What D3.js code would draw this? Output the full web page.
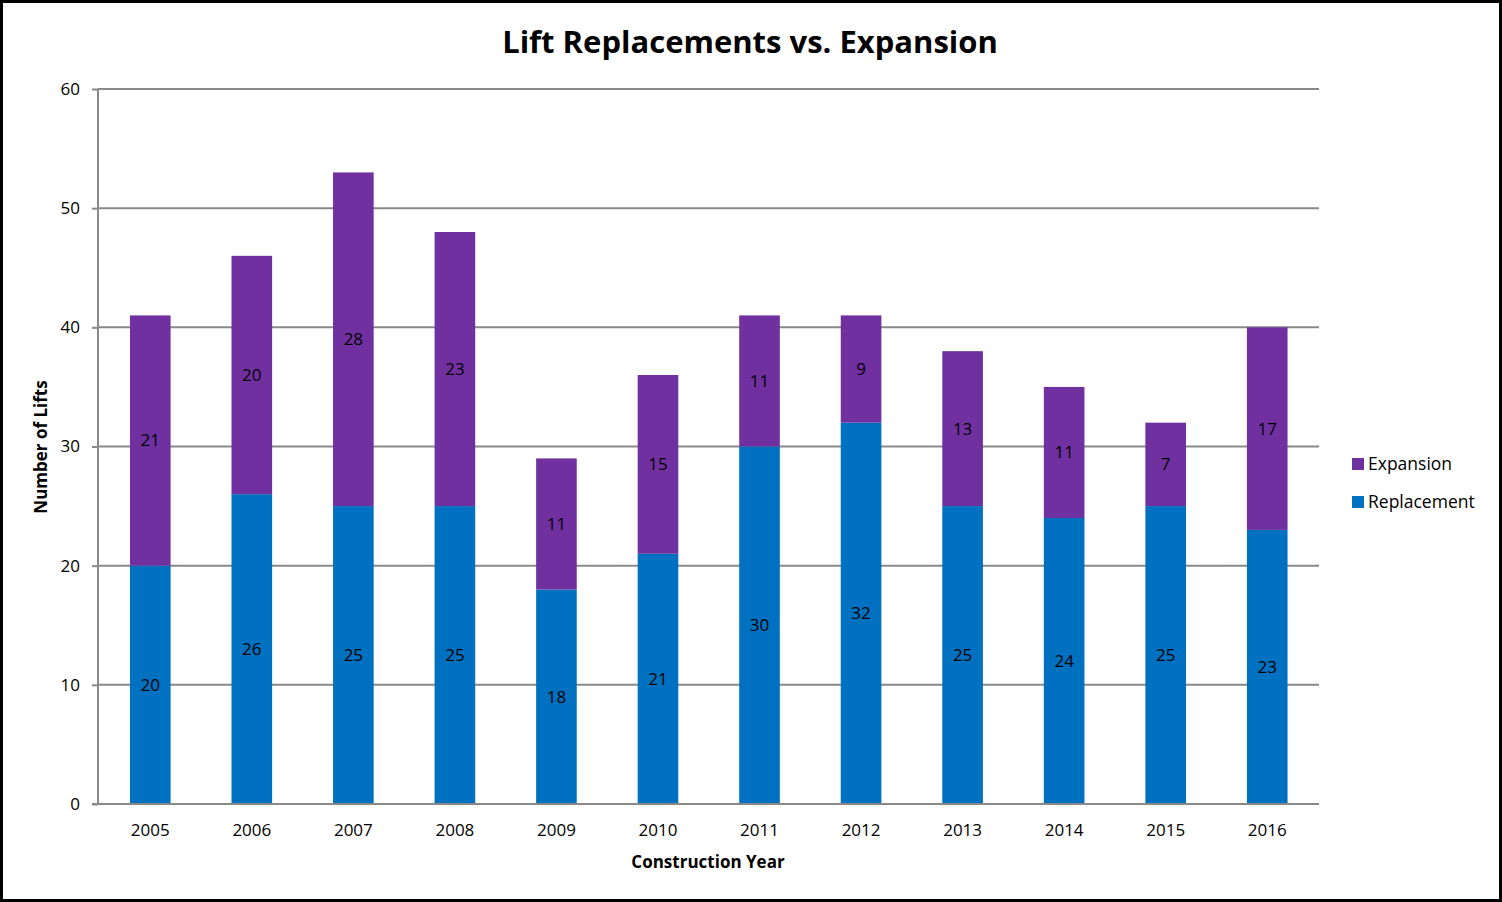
<!DOCTYPE html>
<html lang="en">
<head>
<meta charset="UTF-8">
<style>
  body { margin: 0; background: #fff; }
  svg { display: block; font-family: "Open Sans", "Noto Sans", sans-serif; }
</style>
<script src="https://d3js.org/d3.v7.min.js"></script>
</head>
<body>
<svg id="chart" width="1502" height="902"></svg>
<script>
// chart values
const years = ["2005", "2006", "2007", "2008", "2009", "2010", "2011", "2012", "2013", "2014", "2015", "2016"];
const replacement = [20, 26, 25, 25, 18, 21, 30, 32, 25, 24, 25, 23];
const expansion = [21, 20, 28, 23, 11, 15, 11, 9, 13, 11, 7, 17];
const yTicks = [0, 10, 20, 30, 40, 50, 60];
const seriesNames = ["Replacement", "Expansion"];
const colors = { Replacement: "#0070C0", Expansion: "#7030A0" };

const svg = d3.select("#chart");
const W = 1502, H = 902;
const plotLeft = 98, plotRight = 1319, plotTop = 89, plotBottom = 804;

// outer border
svg.append("rect")
    .attr("x", 1.5).attr("y", 1.5)
    .attr("width", W - 3).attr("height", H - 3)
    .attr("fill", "#fff").attr("stroke", "#000").attr("stroke-width", 3);

const x = d3.scaleBand().domain(years).range([99.5, 1318]).paddingInner(0.6).paddingOuter(0.3);
const y = d3.scaleLinear().domain([0, 60]).range([plotBottom, plotTop]);

// gridlines
svg.append("g")
    .selectAll("line")
    .data(yTicks.filter(d => d > 0))
    .join("line")
    .attr("x1", plotLeft).attr("x2", plotRight)
    .attr("y1", d => y(d)).attr("y2", d => y(d))
    .attr("stroke", "#898989").attr("stroke-width", 2);

// stacked data
const rows = years.map((yr, i) => ({ year: yr, Replacement: replacement[i], Expansion: expansion[i] }));
const stack = d3.stack().keys(seriesNames)(rows);

const layers = svg.append("g")
    .selectAll("g")
    .data(stack)
    .join("g")
    .attr("fill", d => colors[d.key]);

layers.selectAll("rect")
    .data(d => d)
    .join("rect")
    .attr("x", d => x(d.data.year))
    .attr("width", x.bandwidth())
    .attr("y", d => y(d[1]))
    .attr("height", d => y(d[0]) - y(d[1]));

// data labels
layers.selectAll("text")
    .data(d => d.map(v => ({ v, key: d.key })))
    .join("text")
    .attr("x", d => x(d.v.data.year) + x.bandwidth() / 2)
    .attr("y", d => y((d.v[0] + d.v[1]) / 2))
    .attr("dy", "0.35em")
    .attr("text-anchor", "middle")
    .attr("fill", "#000")
    .attr("font-size", "17px")
    .text(d => d.v.data[d.key]);

// y axis
const yAxis = svg.append("g")
    .attr("transform", `translate(${plotLeft},0)`)
    .call(d3.axisLeft(y).tickValues(yTicks).tickSize(6).tickPadding(12));
yAxis.select(".domain").attr("stroke", "#898989").attr("stroke-width", 2).attr("d", `M0,${plotTop}V${plotBottom}`);
yAxis.selectAll(".tick line").attr("stroke", "#898989").attr("stroke-width", 2);
yAxis.selectAll(".tick text").attr("font-size", "17px").attr("fill", "#000")
    .attr("font-family", "'Open Sans', sans-serif");

// x axis
const xAxis = svg.append("g")
    .attr("transform", `translate(0,${plotBottom})`)
    .call(d3.axisBottom(x).tickSize(0).tickPadding(20));
xAxis.select(".domain").attr("stroke", "#898989").attr("stroke-width", 2).attr("d", `M${plotLeft - 6},0H${plotRight}`);
xAxis.selectAll(".tick text").attr("font-size", "17px").attr("fill", "#000")
    .attr("font-family", "'Open Sans', sans-serif");

// title
svg.append("text")
    .attr("x", 750).attr("y", 53)
    .attr("text-anchor", "middle")
    .attr("font-size", "31px").attr("font-weight", "700")
    .text("Lift Replacements vs. Expansion");

// axis titles
svg.append("text")
    .attr("x", 708).attr("y", 868)
    .attr("text-anchor", "middle")
    .attr("font-size", "17px").attr("font-weight", "700")
    .text("Construction Year");

svg.append("text")
    .attr("transform", "translate(47,447) rotate(-90)")
    .attr("text-anchor", "middle")
    .attr("font-size", "17px").attr("font-weight", "700")
    .text("Number of Lifts");

// legend
const legendItems = ["Expansion", "Replacement"];
const legend = svg.append("g")
    .selectAll("g")
    .data(legendItems)
    .join("g")
    .attr("transform", (d, i) => `translate(1352,${458 + i * 38})`);
legend.append("rect")
    .attr("width", 12).attr("height", 12)
    .attr("fill", d => colors[d]);
legend.append("text")
    .attr("x", 16).attr("y", 6).attr("dy", "0.35em")
    .attr("font-size", "17.5px")
    .text(d => d);
</script>
</body>
</html>
